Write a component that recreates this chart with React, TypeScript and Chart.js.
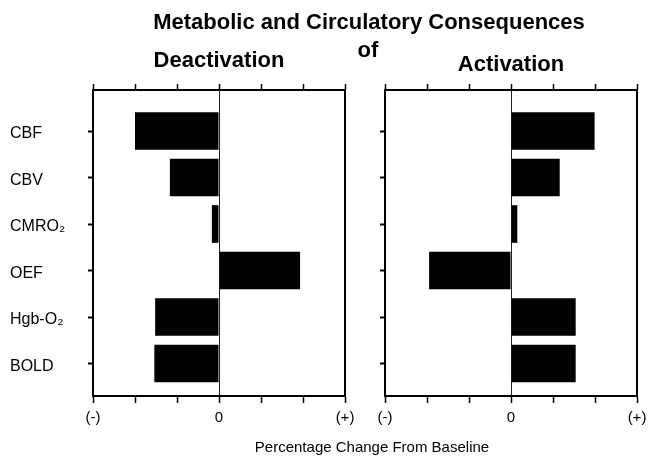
import React, { useEffect, useRef } from 'react';
import { Chart, registerables } from 'chart.js';

Chart.register(...registerables);

const FONT = "'Liberation Sans', Arial, Helvetica, sans-serif";

const CATEGORIES = ['CBF', 'CBV', 'CMRO₂', 'OEF', 'Hgb-O₂', 'BOLD'];
const DEACTIVATION = [-2.0, -1.17, -0.17, 1.93, -1.52, -1.54];
const ACTIVATION = [1.99, 1.16, 0.15, -1.95, 1.54, 1.54];

const X_MIN = -3;
const X_MAX = 3;
const X_TICK_VALUES = [-3, 0, 3];
const X_TICK_LABELS = ['(-)', '0', '(+)'];

const MAIN_TITLE = 'Metabolic and Circulatory Consequences';
const MAIN_TITLE_OF = 'of';
const X_AXIS_TITLE = 'Percentage Change From Baseline';

type PanelProps = {
  title: string;
  values: number[];
  showLabels: boolean;
  left: number;
  width: number;
  yAxisWidth: number;
  padLeft: number;
  padRight: number;
  titlePadTop: number;
  titlePadBottom: number;
};

function Panel(p: PanelProps) {
  const ref = useRef<HTMLCanvasElement | null>(null);
  useEffect(() => {
    if (!ref.current) return;
    Chart.defaults.font.family = FONT;
    Chart.defaults.color = '#000';
    const zeroPadX = (s: any) => {
      s.paddingLeft = 0;
      s.paddingRight = 0;
    };
    const chart = new Chart(ref.current, {
      type: 'bar',
      data: {
        datasets: [
          {
            data: p.values.map((v, i) => ({ x: v, y: i })),
            backgroundColor: '#000',
            borderWidth: 0,
            barPercentage: 0.81,
            categoryPercentage: 1,
            xAxisID: 'x',
            yAxisID: 'y',
          },
        ],
      },
      options: {
        indexAxis: 'y',
        responsive: false,
        animation: false,
        layout: { padding: { left: p.padLeft, right: p.padRight, top: 0, bottom: 22 } },
        plugins: {
          legend: { display: false },
          tooltip: { enabled: false },
          title: {
            display: true,
            text: p.title,
            fullSize: false,
            color: '#000',
            font: { size: 22, weight: 'bold', family: FONT },
            padding: { top: p.titlePadTop, bottom: p.titlePadBottom },
          },
        },
        scales: {
          x: {
            type: 'linear',
            position: 'bottom',
            min: X_MIN,
            max: X_MAX,
            ticks: {
              stepSize: 1,
              autoSkip: false,
              maxRotation: 0,
              padding: 6,
              color: '#000',
              font: { size: 15, family: FONT },
              callback: (value: any) => {
                const i = X_TICK_VALUES.indexOf(Number(value));
                return i >= 0 ? X_TICK_LABELS[i] : '';
              },
            },
            grid: {
              display: true,
              drawOnChartArea: true,
              drawTicks: true,
              tickLength: 7,
              lineWidth: 1,
              color: (ctx: any) => (ctx.tick && ctx.tick.value === 0 ? '#222' : 'rgba(0,0,0,0)'),
              tickColor: '#000',
              tickWidth: 1.5,
            },
            border: { display: true, color: '#000', width: 2 },
            afterFit: (s: any) => {
              s.height = 40;
              zeroPadX(s);
            },
          },
          x2: {
            type: 'linear',
            position: 'top',
            min: X_MIN,
            max: X_MAX,
            ticks: { display: false, stepSize: 1 },
            grid: {
              display: true,
              drawOnChartArea: false,
              drawTicks: true,
              tickLength: 6,
              tickColor: '#000',
              tickWidth: 1.5,
            },
            border: { display: true, color: '#000', width: 2 },
            afterFit: (s: any) => {
              s.height = 7;
              zeroPadX(s);
            },
          },
          y: {
            type: 'linear',
            position: 'left',
            reverse: true,
            offset: false,
            min: -0.882,
            max: 5.699,
            afterBuildTicks: (s: any) => {
              s.ticks = CATEGORIES.map((_, i) => ({ value: i }));
            },
            ticks: {
              display: p.showLabels,
              crossAlign: 'far',
              labelOffset: 3,
              color: '#000',
              font: { size: 16, family: FONT },
              callback: (value: any) => CATEGORIES[Number(value)] ?? '',
            },
            grid: {
              display: true,
              offset: false,
              drawOnChartArea: false,
              drawTicks: true,
              tickLength: 5,
              tickColor: '#000',
              tickWidth: 2,
            },
            border: { display: true, color: '#000', width: 2 },
            afterFit: (s: any) => {
              s.width = p.yAxisWidth;
              s.paddingTop = 0;
              s.paddingBottom = 0;
            },
          },
          y2: {
            type: 'linear',
            position: 'right',
            offset: false,
            ticks: { display: false },
            grid: { display: true, offset: false, drawOnChartArea: false, drawTicks: false },
            border: { display: true, color: '#000', width: 2 },
            afterFit: (s: any) => {
              s.width = 0;
              s.paddingTop = 0;
              s.paddingBottom = 0;
            },
          },
        },
      } as any,
    });
    return () => chart.destroy();
  }, []);
  return (
    <canvas
      ref={ref}
      width={p.width}
      height={458}
      style={{ position: 'absolute', left: p.left, top: 0, width: p.width, height: 458 }}
    />
  );
}

export default function App() {
  const textBase: React.CSSProperties = {
    position: 'absolute',
    whiteSpace: 'nowrap',
    transform: 'translateX(-50%)',
    fontFamily: FONT,
    color: '#000',
  };
  return (
    <div style={{ position: 'absolute', left: 0, top: 0, width: 650, height: 458, background: '#fff', overflow: 'hidden' }}>
      <Panel
        title="Deactivation"
        values={DEACTIVATION}
        showLabels={true}
        left={0}
        width={360}
        yAxisWidth={83}
        padLeft={10}
        padRight={15}
        titlePadTop={48}
        titlePadBottom={8.6}
      />
      <Panel
        title="Activation"
        values={ACTIVATION}
        showLabels={false}
        left={360}
        width={290}
        yAxisWidth={25}
        padLeft={0}
        padRight={13}
        titlePadTop={52}
        titlePadBottom={4.6}
      />
      <div style={{ ...textBase, left: 369, top: 9, fontSize: 22, lineHeight: '26px', fontWeight: 'bold' }}>{MAIN_TITLE}</div>
      <div style={{ ...textBase, left: 368, top: 37, fontSize: 22, lineHeight: '26px', fontWeight: 'bold' }}>{MAIN_TITLE_OF}</div>
      <div style={{ ...textBase, left: 372, top: 438, fontSize: 15, lineHeight: '17px' }}>{X_AXIS_TITLE}</div>
    </div>
  );
}
